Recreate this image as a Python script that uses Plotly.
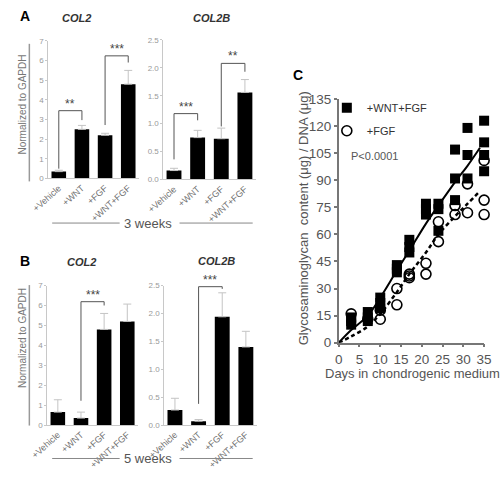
import plotly.graph_objects as go

W, H = 504, 482

# ---------------- data ----------------
treatments = ["+Vehicle", "+WNT", "+FGF", "+WNT+FGF"]

a_col2 = [0.35, 2.5, 2.2, 4.8]
a_col2_err = [0.07, 0.2, 0.1, 0.7]
a_col2b = [0.16, 0.75, 0.73, 1.56]
a_col2b_err = [0.04, 0.13, 0.19, 0.23]

b_col2 = [0.65, 0.35, 4.8, 5.2]
b_col2_err = [0.62, 0.3, 0.8, 0.87]
b_col2b = [0.27, 0.07, 1.94, 1.4]
b_col2b_err = [0.21, 0.03, 0.43, 0.28]

# significance brackets: (left cat idx, right cat idx, left leg bottom, right leg bottom, top, label)
a_col2_sig = [(0, 1, 0.5, 2.97, 3.45, "**"), (2, 3, 2.72, 5.9, 6.24, "***")]
a_col2b_sig = [(0, 1, 0.36, 1.06, 1.18, "***"), (2, 3, 0.95, 1.93, 2.08, "**")]
b_col2_sig = [(1, 2, 1.22, 6.0, 6.19, "***")]
b_col2b_sig = [(1, 2, 0.38, 2.44, 2.48, "***")]

# panel C: glycosaminoglycan / DNA
wf_days = [3, 3, 3, 7, 7, 7, 10, 10, 10, 14, 14, 14, 17, 17, 17, 21, 21, 21,
           24, 24, 24, 28, 28, 28, 31, 31, 31, 35, 35, 35, 35]
wf_vals = [10, 12, 14, 12, 14, 17, 19, 22, 25, 39, 41, 43, 50, 53, 57, 71, 74, 77,
           62, 74, 77, 79, 91, 107, 91, 104, 119, 95, 104, 111, 123]
f_days = [3, 7, 10, 10, 14, 14, 17, 17, 17, 21, 21, 24, 24, 28, 28, 31, 31, 35, 35, 35]
f_vals = [16, 13, 13, 18, 21, 30, 36, 37, 38, 38, 44, 56, 67, 71, 76, 72, 88, 71, 79, 101]

fit_days = [0, 3, 7, 10, 14, 17, 21, 24, 28, 31, 34]
wf_fit = [0, 7, 15, 25, 40, 51, 66, 76, 89, 98, 108]
f_fit = [0, 3.5, 9, 16, 28, 38, 50, 60, 70, 77, 84]

# ---------------- helpers ----------------
def px_x(v):
    return v / W

def px_y(v):
    return 1 - v / H

fig = go.Figure()

FONT = "Liberation Sans, Arial, sans-serif"
bar_panels = [
    ("x", "y", a_col2, a_col2_err, a_col2_sig),
    ("x2", "y2", a_col2b, a_col2b_err, a_col2b_sig),
    ("x3", "y3", b_col2, b_col2_err, b_col2_sig),
    ("x4", "y4", b_col2b, b_col2b_err, b_col2b_sig),
]

for xa, ya, vals, errs, sigs in bar_panels:
    fig.add_trace(go.Bar(
        x=treatments, y=vals, xaxis=xa, yaxis=ya,
        marker=dict(color="black", line=dict(width=0)),
        width=0.63,
        error_y=dict(type="data", array=errs, arrayminus=[0] * len(errs),
                     symmetric=False, color="#c4c4c4", thickness=1, width=4),
        showlegend=False,
    ))
    for (l, r, lb, rb, top, lab) in sigs:
        for (x0, y0, x1, y1) in [(l, lb, l, top), (l, top, r, top), (r, top, r, rb)]:
            fig.add_shape(type="line", xref=xa, yref=ya,
                          x0=treatments[x0], x1=treatments[x1], y0=y0, y1=y1,
                          line=dict(color="#555555", width=1))
        fig.add_annotation(xref=xa, yref=ya, x=(l + r) / 2, y=top, text=lab,
                           showarrow=False, yanchor="bottom", yshift=-2,
                           font=dict(family=FONT, size=12, color="#444444"))

# panel C traces
fig.add_trace(go.Scatter(
    x=fit_days, y=wf_fit, xaxis="x5", yaxis="y5", mode="lines",
    line=dict(color="black", width=2, shape="spline"), showlegend=False))
fig.add_trace(go.Scatter(
    x=fit_days, y=f_fit, xaxis="x5", yaxis="y5", mode="lines",
    line=dict(color="black", width=2.5, shape="spline", dash="4px,3px"), showlegend=False))
fig.add_trace(go.Scatter(
    x=f_days, y=f_vals, xaxis="x5", yaxis="y5", mode="markers", name="+FGF",
    legendgroup="g2", legendrank=2,
    marker=dict(symbol="circle-open", size=10, color="black", line=dict(width=1.6)),
    cliponaxis=False))
fig.add_trace(go.Scatter(
    x=wf_days, y=wf_vals, xaxis="x5", yaxis="y5", mode="markers", name="+WNT+FGF",
    legendgroup="g1", legendrank=1,
    marker=dict(symbol="square", size=10, color="black", line=dict(width=0)),
    cliponaxis=False))

# ---------------- axes ----------------
def bar_x(domain):
    return dict(domain=domain, range=[-0.45, 3.45], showline=True, linecolor="#c8c8c8",
                linewidth=1, ticks="", tickangle=-42, showgrid=False, zeroline=False,
                tickfont=dict(family=FONT, size=9, color="#707070"), fixedrange=True)

def bar_y(domain, rng, dtick, fmt, anchor):
    return dict(domain=domain, range=rng, dtick=dtick, tickformat=fmt, showline=True,
                linecolor="#c8c8c8", linewidth=1, ticks="outside", ticklen=2,
                tickcolor="#c8c8c8", showgrid=False, zeroline=False, anchor=anchor,
                tickfont=dict(family=FONT, size=8, color="#999999"))

fig.update_layout(
    width=W, height=H, margin=dict(l=0, r=0, t=0, b=0),
    paper_bgcolor="white", plot_bgcolor="white", bargap=0.37,
    font=dict(family=FONT),
    xaxis=dict(bar_x([px_x(33), px_x(128)]), anchor="y"),
    yaxis=bar_y([px_y(177), px_y(35)], [0, 7], 1, "d", "x"),
    xaxis2=dict(bar_x([px_x(154), px_x(251)]), anchor="y2"),
    yaxis2=bar_y([px_y(178), px_y(34)], [0, 2.5], 0.5, ".1f", "x2"),
    xaxis3=dict(bar_x([px_x(32), px_x(127)]), anchor="y3"),
    yaxis3=bar_y([px_y(431.5), px_y(287.5)], [0, 7], 1, "d", "x3"),
    xaxis4=dict(bar_x([px_x(155), px_x(252)]), anchor="y4"),
    yaxis4=bar_y([px_y(431.5), px_y(287.5)], [0, 2.5], 0.5, ".1f", "x4"),
    xaxis5=dict(domain=[px_x(338.5), px_x(491.5)], range=[0, 35], dtick=5, anchor="y5",
                showline=True, linecolor="#777777", linewidth=1.5, ticks="outside",
                ticklen=3, tickcolor="#777777", tickwidth=1.5, showgrid=False, zeroline=False,
                tickfont=dict(family=FONT, size=13.5, color="#555555")),
    yaxis5=dict(domain=[px_y(346.5), px_y(95)], range=[0, 135], dtick=15, anchor="x5",
                showline=True, linecolor="#777777", linewidth=1.5, ticks="outside",
                ticklen=3, tickcolor="#777777", tickwidth=1.5, showgrid=False, zeroline=False,
                tickfont=dict(family=FONT, size=13.5, color="#555555")),
    legend=dict(x=px_x(326), y=px_y(89), xanchor="left", yanchor="top",
                font=dict(family=FONT, size=11, color="#333333"), itemwidth=30,
                tracegroupgap=4, traceorder="grouped", bgcolor="rgba(0,0,0,0)"),
)

# ---------------- text & decorations ----------------
def ann(x, y, text, size, color="#333333", bold=False, italic=False, angle=0, xanchor="center"):
    t = text
    if bold:
        t = "<b>" + t + "</b>"
    if italic:
        t = "<i>" + t + "</i>"
    fig.add_annotation(xref="paper", yref="paper", x=px_x(x), y=px_y(y), text=t,
                       showarrow=False, textangle=angle, xanchor=xanchor, yanchor="middle",
                       font=dict(family=FONT, size=size, color=color))

ann(1, 9, "A", 14, "black", bold=True, xanchor="left")
ann(63, 11, "COL2", 11, "#333333", bold=True, italic=True)
ann(205, 11, "COL2B", 11, "#333333", bold=True, italic=True)
ann(1, 262, "B", 14, "black", bold=True, xanchor="left")
ann(68, 263, "COL2", 11, "#333333", bold=True, italic=True)
ann(210, 262, "COL2B", 11, "#333333", bold=True, italic=True)
ann(296, 70, "C", 14, "black", bold=True)

ann(6, 101, "Normalized to GAPDH", 10, "#777777", angle=-90)
ann(6, 342, "Normalized to GAPDH", 10, "#777777", angle=-90)
for (yt, yb) in [(38, 180), (287, 432)]:
    fig.add_shape(type="line", xref="paper", yref="paper", x0=px_x(13), x1=px_x(13),
                  y0=px_y(yt), y1=px_y(yb), line=dict(color="#999999", width=1.5))

for yy, lab in [(223, "3 weeks"), (466, "5 weeks")]:
    ann(138, yy, lab, 13, "#555555")
    for (a, b) in [(37, 108), (171, 248)]:
        fig.add_shape(type="line", xref="paper", yref="paper", x0=px_x(a), x1=px_x(b),
                      y0=px_y(yy), y1=px_y(yy), line=dict(color="#888888", width=1))

ann(301, 218, "Glycosaminoglycan  content (\u03bcg) / DNA (\u03bcg)", 13, "#555555", angle=-90)
ann(416, 378, "Days in chondrogenic medium", 13, "#555555")
ann(349, 154, "P<0.0001", 11, "#555555", xanchor="left")

fig.write_html("out.html", config={"displayModeBar": False},
               post_script="document.body.style.margin='0px';")
